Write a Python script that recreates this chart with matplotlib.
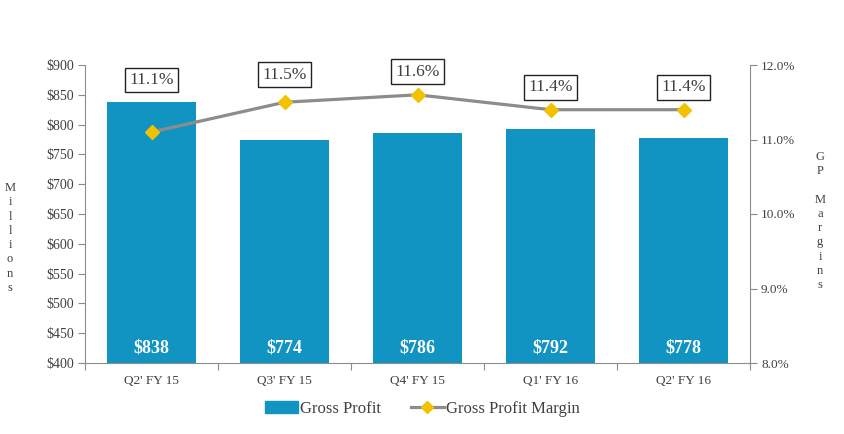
import numpy as np
import matplotlib.pyplot as plt
from matplotlib.patches import Patch
from matplotlib.lines import Line2D

plt.rcParams['font.family'] = ['Liberation Serif', 'DejaVu Serif']

# data
quarters = ["Q2' FY 15", "Q3' FY 15", "Q4' FY 15", "Q1' FY 16", "Q2' FY 16"]
gross_profit = [838, 774, 786, 792, 778]
gp_margin = [11.1, 11.5, 11.6, 11.4, 11.4]

bar_col = '#1294c2'
line_col = '#8c8c8c'
mark_col = '#f2c100'
txt_col = '#404040'
spine_col = '#8c8c8c'

fig = plt.figure(figsize=(8.44, 4.34), dpi=100)
ax = fig.add_axes([85/844, 1-363/434, 665/844, 298/434])
x = np.arange(len(quarters))

ax.bar(x, gross_profit, width=0.67, color=bar_col, zorder=2)
ax.set_ylim(400, 900)
ax.set_xlim(-0.5, len(quarters)-0.5)
ax.set_yticks(np.arange(400, 901, 50))
ax.set_yticklabels(['$%d' % v for v in np.arange(400, 901, 50)])
for i, v in enumerate(gross_profit):
    ax.text(i, 425, '$%d' % v, ha='center', va='center', color='white',
            fontsize=13, fontweight='bold', zorder=3)

# category ticks at boundaries, labels at centres
ax.set_xticks(np.arange(-0.5, len(quarters), 1.0))
ax.set_xticklabels([])
ax.set_xticks(x, minor=True)
ax.set_xticklabels(quarters, minor=True)
ax.tick_params(axis='x', which='minor', length=0, pad=9, labelsize=9.5, labelcolor=txt_col)
ax.tick_params(axis='x', which='major', length=5, color=spine_col, direction='out')
ax.tick_params(axis='y', length=5, color=spine_col, labelsize=10, labelcolor=txt_col, pad=3)

for s in ['top', 'right']:
    ax.spines[s].set_visible(False)
for s in ['left', 'bottom']:
    ax.spines[s].set_color(spine_col)

ax2 = ax.twinx()
ax2.plot(x, gp_margin, color=line_col, lw=2.3, marker='D', ms=7,
         mfc=mark_col, mec=mark_col, zorder=4)
ax2.set_ylim(8, 12)
ax2.set_yticks(np.arange(8, 12.01, 1))
ax2.set_yticklabels(['%.1f%%' % v for v in np.arange(8, 12.01, 1)])
ax2.tick_params(axis='y', length=5, color=spine_col, labelsize=9.5, labelcolor=txt_col, pad=3)
for s in ['top', 'left', 'bottom']:
    ax2.spines[s].set_visible(False)
ax2.spines['right'].set_color(spine_col)

# boxed margin labels (first one sits above the bar)
label_off = [0.7, 0.37, 0.31, 0.3, 0.3]
for i, m in enumerate(gp_margin):
    ax2.text(i, m + label_off[i], '%.1f%%' % m, ha='center', va='center',
             fontsize=12.5, color=txt_col,
             bbox=dict(boxstyle='square,pad=0.25', fc='white', ec='#222222', lw=1))

fig.text(10/844, 1-238/434, '\n'.join('Millions'), ha='center', va='center',
         fontsize=9, color=txt_col, linespacing=1.25)
fig.text(820/844, 1-221/434, '\n'.join('GP Margins').replace(' ', ''), ha='center',
         va='center', fontsize=9, color=txt_col, linespacing=1.25)

handles = [Patch(color=bar_col),
           Line2D([0], [0], color=line_col, lw=2.3, marker='D', ms=6, mfc=mark_col, mec=mark_col)]
fig.legend(handles, ['Gross Profit', 'Gross Profit Margin'], loc='center',
           bbox_to_anchor=(0.5, 1-409/434), ncol=2, frameon=False, fontsize=12,
           handlelength=2.0, handleheight=0.7, handletextpad=0.1, columnspacing=1.8,
           labelcolor=txt_col)

fig.savefig('out.png', dpi=100)
